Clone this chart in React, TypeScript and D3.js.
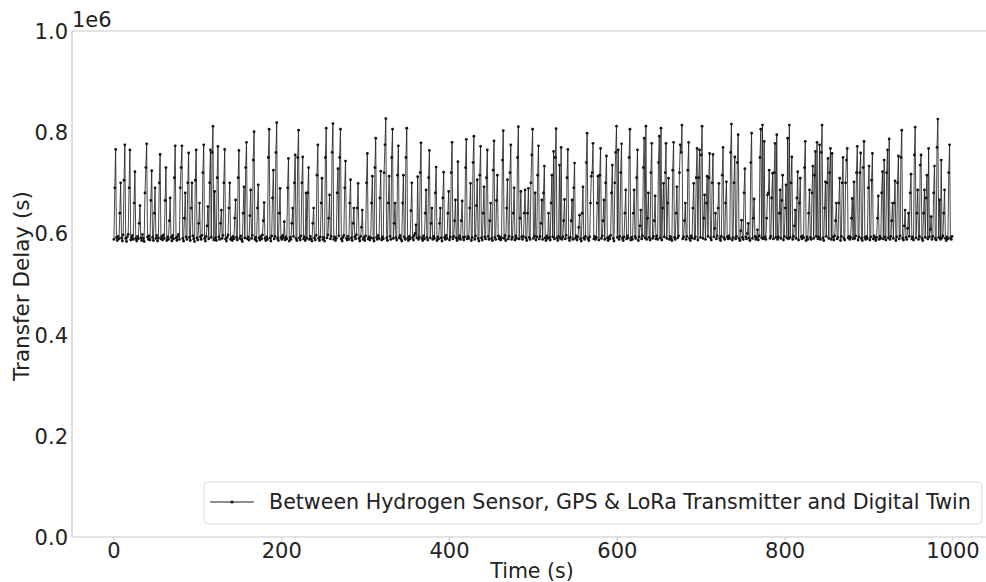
import React from "react";
import * as d3 from "d3";

// Transfer delay values in thousands of seconds-units (value * 1e3 = plotted value), one per second t = 0..999
const delayK: number[] = [
  588,690,766,592,586,594,589,640,700,591,
  585,597,705,775,590,584,593,598,690,765,
  587,592,596,588,660,722,590,585,594,589,
  620,655,591,586,598,590,584,680,730,777,
  593,588,595,587,665,724,592,586,640,690,
  590,596,585,591,700,756,589,594,587,597,
  590,665,730,586,593,588,625,670,592,585,
  596,589,710,773,591,586,594,598,588,690,
  730,773,590,585,630,680,593,588,700,759,
  592,586,650,700,595,589,584,705,765,591,
  587,620,660,593,588,596,720,775,590,585,
  594,615,653,589,700,765,592,760,812,587,
  683,591,586,710,772,593,588,620,646,590,
  596,700,766,589,585,592,597,650,700,588,
  591,586,594,589,630,666,592,587,710,764,
  590,595,588,584,640,692,591,730,780,589,
  593,587,635,686,590,596,745,801,588,592,
  585,650,696,591,587,594,589,597,625,661,
  590,586,593,588,750,806,591,585,595,670,
  725,589,594,760,819,590,586,640,689,592,
  588,596,591,623,587,593,589,690,748,585,
  592,588,620,650,594,700,755,590,586,750,
  804,591,587,595,700,751,589,593,586,680,
  590,680,730,588,594,589,585,620,650,591,
  587,596,715,775,590,586,593,660,709,588,
  592,585,750,808,591,597,630,676,589,594,
  760,817,588,593,586,590,680,728,595,750,
  806,589,585,592,596,690,743,590,587,594,
  588,660,706,591,586,620,650,593,589,597,
  650,699,590,585,594,612,646,588,592,586,
  595,700,758,589,593,587,591,660,713,590,
  585,730,788,592,588,596,590,670,723,587,
  593,589,720,775,827,591,586,660,713,594,
  588,750,806,590,620,660,592,587,715,773,
  591,596,589,585,660,715,593,588,750,808,
  590,586,594,589,645,700,592,587,596,600,
  617,591,712,588,593,720,779,590,586,595,
  589,640,686,592,587,710,764,591,620,650,
  588,594,590,680,731,586,593,589,620,650,
  591,585,670,721,592,588,596,590,640,683,
  587,593,720,780,589,594,625,666,591,586,
  742,590,595,588,625,664,592,587,593,730,
  786,589,594,590,650,699,586,592,740,792,
  588,595,655,706,590,585,715,772,591,587,
  640,692,593,589,710,765,594,588,625,660,
  590,586,725,783,592,588,665,715,595,589,
  593,587,591,745,803,590,596,586,650,706,
  589,594,720,775,588,592,640,690,587,595,
  590,750,811,589,630,683,593,588,594,640,
  686,591,586,640,689,592,588,700,755,806,
  590,595,680,587,593,715,773,589,594,620,
  666,588,680,733,591,586,595,590,640,592,
  587,660,715,593,762,589,750,807,591,586,
  594,735,590,770,588,593,625,667,589,596,
  710,766,591,586,592,625,666,588,690,739,
  590,595,587,593,612,636,589,585,640,692,
  591,588,594,740,798,590,586,593,660,713,
  720,778,589,594,588,592,660,713,587,715,
  768,590,595,625,666,588,700,753,591,586,
  593,589,596,680,735,590,585,700,760,812,
  592,765,588,594,720,777,590,586,593,640,
  686,589,595,591,750,806,587,592,588,640,
  686,594,590,710,765,586,593,615,646,589,
  595,730,788,591,812,588,630,680,592,587,
  720,778,590,594,625,674,589,595,588,740,
  792,591,808,587,650,699,593,720,778,590,
  660,709,588,594,590,586,725,780,592,588,
  640,692,591,595,720,775,760,814,589,593,
  625,660,588,594,725,780,590,586,595,591,
  650,699,589,593,710,768,587,710,765,592,
  755,812,590,630,676,588,660,713,594,710,
  758,591,587,700,756,593,610,640,589,595,
  650,699,590,586,594,715,770,591,588,660,
  702,593,589,595,590,760,816,587,592,700,
  751,589,594,740,795,590,586,605,626,592,
  588,680,728,593,589,600,620,591,586,740,
  798,590,630,668,594,588,592,607,587,595,
  750,806,591,814,589,782,593,588,630,676,
  680,725,590,594,670,719,589,720,778,592,
  795,588,593,640,686,590,665,715,587,594,
  650,696,591,788,589,814,592,700,751,588,
  594,615,646,590,670,722,587,660,709,593,
  589,595,591,730,782,586,593,588,640,686,
  592,588,680,733,590,715,762,594,780,589,
  593,775,588,760,814,591,586,650,702,594,
  700,748,590,720,768,588,758,593,587,595,
  625,660,589,592,660,709,586,594,700,750,
  590,587,700,745,768,591,594,588,592,630,
  669,589,702,590,595,720,772,587,593,720,
  759,590,586,730,782,592,588,594,590,690,
  733,587,593,705,758,589,595,591,586,592,
  630,674,588,594,590,680,722,589,745,593,
  587,720,765,591,787,588,594,625,660,590,
  660,704,586,593,700,753,589,595,750,804,
  590,587,615,646,592,588,610,640,594,680,
  717,589,593,587,755,810,591,640,686,588,
  594,735,755,590,586,640,686,592,670,715,
  589,768,593,608,633,588,594,680,733,590,
  587,770,826,592,666,588,745,591,595,640,
  686,590,586,593,589,720,775,591,588,594,
];

const times: number[] = delayK.map((_, i) => i);
const xTicks: number[] = [0, 200, 400, 600, 800, 1000];
const yTicks: number[] = [0, 0.2e6, 0.4e6, 0.6e6, 0.8e6, 1.0e6];
const seriesLabel = "Between Hydrogen Sensor, GPS & LoRa Transmitter and Digital Twin";

const W = 986;
const H = 582;
const left = 72;
const top = 31;
const bottom = 537;
const pxPerUnit = 0.839;

export default function App() {
  const x = d3.scaleLinear().domain([-50, 1050]).range([left, left + 1100 * pxPerUnit]);
  const y = d3.scaleLinear().domain([0, 1e6]).range([bottom, top]);
  const data = times.map((t, i) => ({ t, v: delayK[i] * 1000 }));
  const line = d3
    .line<{ t: number; v: number }>()
    .x((d) => x(d.t))
    .y((d) => y(d.v));
  const font = "'DejaVu Sans', sans-serif";
  const spine = "#c8c8c8";

  return (
    <svg
      width={W}
      height={H}
      style={{ position: "absolute", left: 0, top: 0, background: "#fff" }}
      fontFamily={font}
    >
      <rect x={0} y={0} width={W} height={H} fill="#fff" />
      {/* spines */}
      <line x1={left} x2={W} y1={top} y2={top} stroke={spine} strokeWidth={1.2} />
      <line x1={left} x2={W} y1={bottom} y2={bottom} stroke={spine} strokeWidth={1.2} />
      <line x1={left} x2={left} y1={top} y2={bottom} stroke={spine} strokeWidth={1.2} />
      {/* x ticks */}
      {xTicks.map((t) => (
        <g key={"x" + t}>
          <line x1={x(t)} x2={x(t)} y1={bottom} y2={bottom + 4} stroke={spine} strokeWidth={1} />
          <text x={x(t)} y={558} textAnchor="middle" fontSize={21} fill="#222">
            {t}
          </text>
        </g>
      ))}
      {/* y ticks */}
      {yTicks.map((v) => (
        <text key={"y" + v} x={68} y={y(v) + 8} textAnchor="end" fontSize={21} fill="#222">
          {(v / 1e6).toFixed(1)}
        </text>
      ))}
      <text x={72} y={27} fontSize={21} fill="#222">1e6</text>
      <text x={532} y={578} textAnchor="middle" fontSize={20.5} fill="#222">
        Time (s)
      </text>
      <text
        transform={`translate(29, ${(top + bottom) / 2 + 2}) rotate(-90)`}
        textAnchor="middle"
        fontSize={21.5}
        fill="#222"
      >
        Transfer Delay (s)
      </text>
      {/* series */}
      <path d={line(data) || ""} fill="none" stroke="#1a1a1a" strokeWidth={0.8} />
      {data.map((d, i) => (
        <circle key={i} cx={x(d.t)} cy={y(d.v)} r={1.4} fill="#111" />
      ))}
      {/* legend */}
      <rect x={204} y={482} width={778} height={42} rx={4} fill="#fff" fillOpacity={0.85} stroke="#dcdcdc" />
      <line x1={210} x2={254} y1={502} y2={502} stroke="#1a1a1a" strokeWidth={1} />
      <circle cx={232} cy={502} r={1.5} fill="#111" />
      <text x={269} y={509} fontSize={20.6} fill="#222">
        {seriesLabel}
      </text>
    </svg>
  );
}
